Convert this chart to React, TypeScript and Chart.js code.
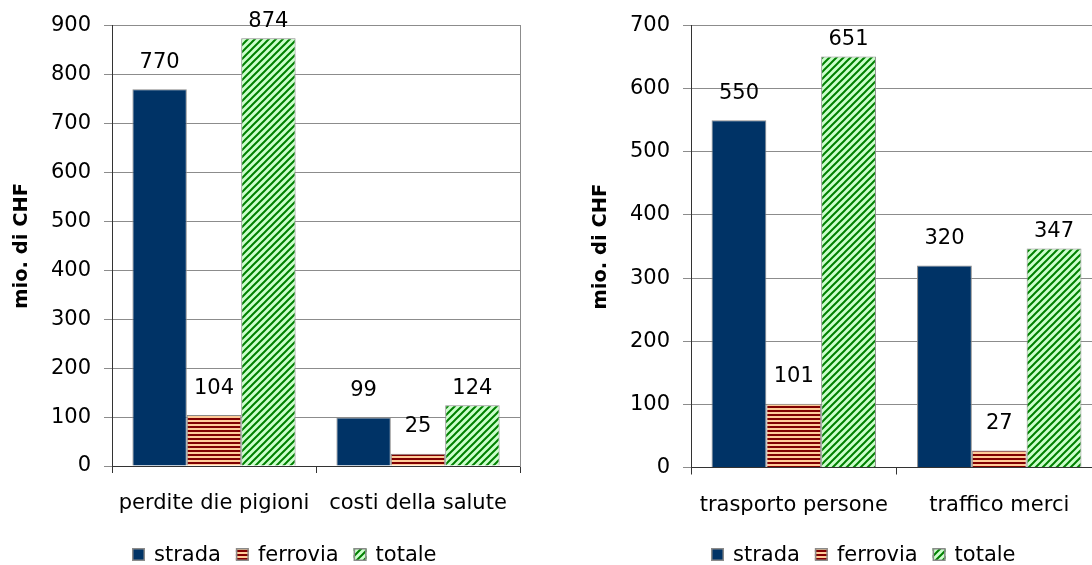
import React, { useEffect, useRef } from 'react';
import { Chart, registerables } from 'chart.js';

Chart.register(...registerables);

// ---- data ----
const seriesNames = ['strada', 'ferrovia', 'totale'];
const yTitle = 'mio. di CHF';
const tickStep = 100;

const leftCategories = ['perdite die pigioni', 'costi della salute'];
const leftStrada = [770, 99];
const leftFerrovia = [104, 25];
const leftTotale = [874, 124];
const leftMax = 900;

const rightCategories = ['trasporto persone', 'traffico merci'];
const rightStrada = [550, 320];
const rightFerrovia = [101, 27];
const rightTotale = [651, 347];
const rightMax = 700;

const FONT = '"DejaVu Sans", "Liberation Sans", sans-serif';

function makePatterns() {
  const c1 = document.createElement('canvas');
  c1.width = 4;
  c1.height = 4;
  const x1 = c1.getContext('2d')!;
  x1.fillStyle = '#FFCC99';
  x1.fillRect(0, 0, 4, 4);
  x1.fillStyle = '#800000';
  x1.fillRect(0, 2, 4, 2);
  const stripes = x1.createPattern(c1, 'repeat')!;

  const s = 7;
  const c2 = document.createElement('canvas');
  c2.width = s;
  c2.height = s;
  const x2 = c2.getContext('2d')!;
  x2.fillStyle = '#CCFFCC';
  x2.fillRect(0, 0, s, s);
  x2.strokeStyle = '#008000';
  x2.lineWidth = 2.0;
  x2.beginPath();
  x2.moveTo(-1, s + 1);
  x2.lineTo(s + 1, -1);
  x2.moveTo(-2, 2);
  x2.lineTo(2, -2);
  x2.moveTo(s - 2, s + 2);
  x2.lineTo(s + 2, s - 2);
  x2.stroke();
  const diag = x2.createPattern(c2, 'repeat')!;
  return ['#003366', stripes, diag];
}

const valueLabels = {
  id: 'valueLabels',
  afterDatasetsDraw(chart: any, _args: any, opts: any) {
    const ctx = chart.ctx;
    ctx.save();
    ctx.font = `21px ${FONT}`;
    ctx.fillStyle = '#000';
    ctx.textAlign = 'center';
    ctx.textBaseline = 'middle';
    chart.data.datasets.forEach((ds: any, i: number) => {
      const meta = chart.getDatasetMeta(i);
      meta.data.forEach((el: any, j: number) => {
        ctx.fillText(String(ds.data[j]), el.x, el.y - opts.offsets[i]);
      });
    });
    ctx.restore();
  },
};

const customLegend = {
  id: 'customLegend',
  afterDraw(chart: any) {
    const ctx = chart.ctx;
    const area = chart.chartArea;
    ctx.save();
    ctx.font = `21px ${FONT}`;
    ctx.textBaseline = 'alphabetic';
    ctx.textAlign = 'left';
    let x = area.left + 20;
    const boxTop = chart.height - 17;
    const box = 13;
    chart.data.datasets.forEach((ds: any) => {
      ctx.fillStyle = ds.backgroundColor;
      ctx.fillRect(x, boxTop, box, box);
      ctx.strokeStyle = '#8a8a8a';
      ctx.lineWidth = 1.5;
      ctx.strokeRect(x + 0.75, boxTop + 0.75, box - 1.5, box - 1.5);
      ctx.fillStyle = '#000';
      const tx = x + box + 9;
      ctx.fillText(ds.label, tx, boxTop + box);
      x = tx + ctx.measureText(ds.label).width + 15;
    });
    ctx.restore();
  },
};

type PanelProps = {
  left: number;
  categories: string[];
  strada: number[];
  ferrovia: number[];
  totale: number[];
  max: number;
  plotRight: number;
  plotBottom: number;
};

const W = 560;
const H = 565;

function Panel(p: PanelProps) {
  const ref = useRef<HTMLCanvasElement>(null);
  useEffect(() => {
    const canvas = ref.current!;
    const colors = makePatterns();
    const values = [p.strada, p.ferrovia, p.totale];
    const chart = new Chart(canvas, {
      type: 'bar',
      data: {
        labels: p.categories,
        datasets: seriesNames.map((name, i) => ({
          label: name,
          data: values[i],
          backgroundColor: colors[i] as any,
          borderColor: '#8a8a8a',
          borderWidth: 1,
          categoryPercentage: 0.8,
          barPercentage: 1.0,
        })),
      },
      options: {
        responsive: false,
        animation: false,
        events: [],
        layout: { padding: { top: 25, left: 0, right: W - p.plotRight, bottom: 0 } },
        plugins: {
          legend: { display: false },
          tooltip: { enabled: false },
          valueLabels: { offsets: [27, 27, 17] },
        } as any,
        scales: {
          x: {
            grid: {
              offset: true,
              drawOnChartArea: false,
              drawTicks: true,
              tickLength: 7,
              color: '#333',
            },
            border: { color: '#333', width: 1 },
            ticks: { color: '#000', font: { family: FONT, size: 21 }, padding: 18, maxRotation: 0, autoSkip: false },
            afterFit: (s: any) => {
              s.height = H - p.plotBottom;
            },
          },
          y: {
            min: 0,
            max: p.max,
            grid: { color: '#8c8c8c', tickLength: 8, lineWidth: 1 },
            border: { color: '#333', width: 1 },
            ticks: { stepSize: tickStep, color: '#000', font: { family: FONT, size: 21 }, padding: 13 },
            title: {
              display: true,
              text: yTitle,
              color: '#000',
              font: { family: FONT, size: 19.5, weight: 'bold' },
              padding: { top: 10, bottom: 0 },
            },
            afterFit: (s: any) => {
              s.width = 112;
            },
          },
          y2: {
            type: 'linear',
            position: 'right',
            display: true,
            grid: { display: false, drawTicks: false },
            border: { color: '#8c8c8c', width: 1 },
            ticks: { display: false },
            afterFit: (s: any) => {
              s.width = 0;
            },
          },
        } as any,
      },
      plugins: [valueLabels, customLegend],
    });
    return () => chart.destroy();
  }, []);
  return (
    <canvas
      ref={ref}
      width={W}
      height={H}
      style={{ position: 'absolute', left: p.left, top: 0, width: W, height: H }}
    />
  );
}

export default function App() {
  return (
    <div
      style={{
        position: 'fixed',
        left: 0,
        top: 0,
        width: 1092,
        height: 565,
        overflow: 'hidden',
        background: '#fff',
      }}
    >
      <Panel
        left={0}
        categories={leftCategories}
        strada={leftStrada}
        ferrovia={leftFerrovia}
        totale={leftTotale}
        max={leftMax}
        plotRight={520}
        plotBottom={466}
      />
      <Panel
        left={579}
        categories={rightCategories}
        strada={rightStrada}
        ferrovia={rightFerrovia}
        totale={rightTotale}
        max={rightMax}
        plotRight={523}
        plotBottom={467.5}
      />
    </div>
  );
}
